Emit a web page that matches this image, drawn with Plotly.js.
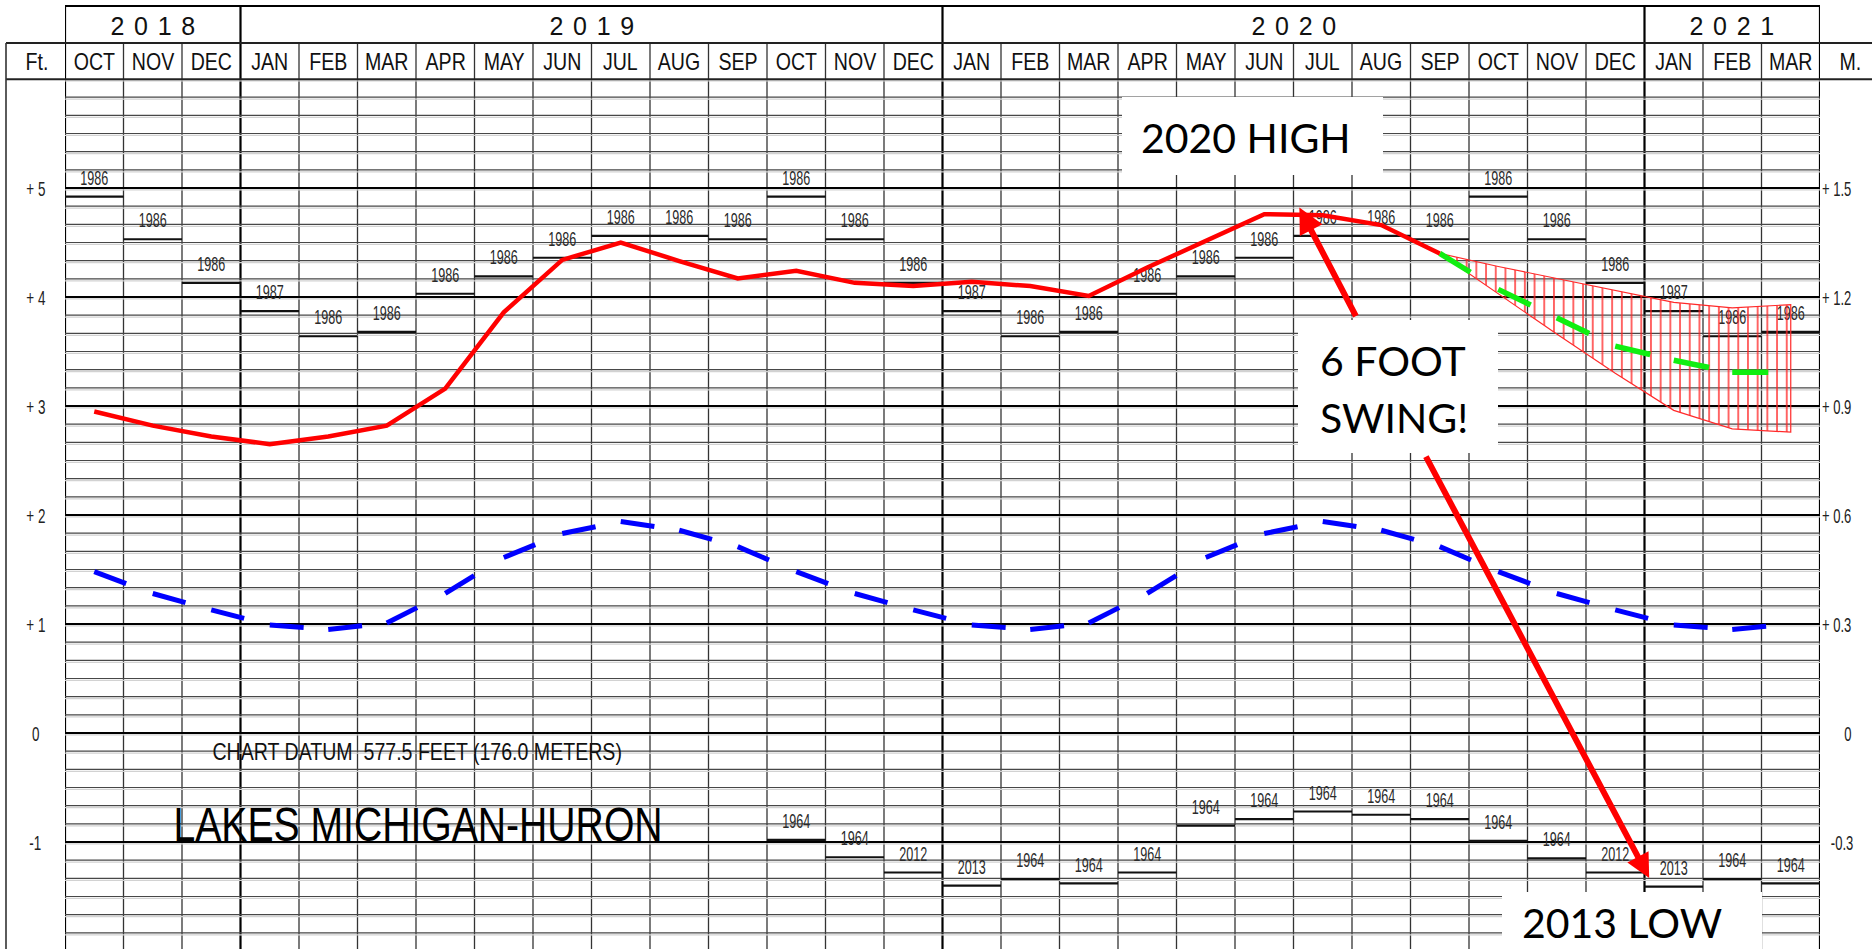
<!DOCTYPE html>
<html><head><meta charset="utf-8">
<script src="https://cdn.plot.ly/plotly-3.0.1.min.js"></script>
<style>html,body{margin:0;padding:0;background:#fff;overflow:hidden}#chart{width:1872px;height:949px}</style>
</head><body><div id="chart"></div>
<script>
// ---------------- data ----------------
const months = ['OCT','NOV','DEC','JAN','FEB','MAR','APR','MAY','JUN','JUL','AUG','SEP','OCT','NOV','DEC',
                'JAN','FEB','MAR','APR','MAY','JUN','JUL','AUG','SEP','OCT','NOV','DEC','JAN','FEB','MAR'];
const years = ['2018','2019','2020','2021'];
const yearFirstMonth = [0,3,15,27];
const yearMonthCount = [3,12,12,3];

// monthly mean level, ft above chart datum (Oct 2018 - Sep 2020)
const actualLevel = [2.95,2.82,2.72,2.65,2.72,2.82,3.16,3.86,4.34,4.50,4.33,4.17,4.24,4.13,4.10,
                     4.14,4.10,4.01,4.27,4.52,4.76,4.75,4.66,4.40];
// forecast Sep 2020 - Mar 2021
const forecastFirstMonth = 23;
const forecastMostProbable = [4.40,4.07,3.81,3.55,3.42,3.31,3.31];
const forecastHigh = [4.40,4.28,4.17,4.06,3.95,3.90,3.93];
const forecastLow  = [4.40,4.03,3.66,3.30,2.96,2.79,2.76];
// long-term average
const longTermAverage = [1.48,1.28,1.13,0.99,0.95,1.01,1.28,1.61,1.83,1.94,1.86,1.71,1.48,1.28,1.13,
                         0.99,0.95,1.01,1.28,1.61,1.83,1.94,1.86,1.71,1.48,1.28,1.13,0.99,0.95,1.00];
// record high monthly means
const recordHigh = [4.92,4.53,4.13,3.87,3.64,3.68,4.03,4.19,4.36,4.56,4.56,4.53,4.92,4.53,4.13,
                    3.87,3.64,3.68,4.03,4.19,4.36,4.56,4.56,4.53,4.92,4.53,4.13,3.87,3.64,3.68];
const recordHighYear = ['1986','1986','1986','1987','1986','1986','1986','1986','1986','1986','1986','1986','1986','1986','1986',
                        '1987','1986','1986','1986','1986','1986','1986','1986','1986','1986','1986','1986','1987','1986','1986'];
// record low monthly means (shown from Oct 2019)
const recordLowFirstMonth = 12;
const recordLow = [-0.98,-1.14,-1.28,-1.40,-1.34,-1.38,-1.28,-0.85,-0.79,-0.72,-0.75,-0.79,
                   -0.99,-1.15,-1.28,-1.41,-1.34,-1.38];
const recordLowYear = ['1964','1964','2012','2013','1964','1964','1964','1964','1964','1964','1964','1964',
                       '1964','1964','2012','2013','1964','1964'];
// axis labels
const feetTicks = [5,4,3,2,1,0,-1];
const feetTickText = ['+ 5','+ 4','+ 3','+ 2','+ 1','0','-1'];
const meterTickText = ['+ 1.5','+ 1.2','+ 0.9','+ 0.6','+ 0.3','0','-0.3'];

// ---------------- geometry helpers ----------------
const W = 1872, H = 949, ML = 65, MR = 52, MT = 79, MB = 0;
const PW = W - ML - MR, PH = H - MT - MB;
const YMAX = 6, YMIN = 6 - PH / 109;
const px = v => (v - ML) / PW;          // pixel x -> paper
const py = v => (H - MB - v) / PH;      // pixel y -> paper
const ARIAL = "'Liberation Sans',Arial,sans-serif";
const CAL = "Lato,'Open Sans',sans-serif";
const NARROW_K = 0.815;   // Arial Narrow look
const TINY_K = 0.6;       // very condensed small labels

function steps(first, vals) {
  const x = [], y = [];
  vals.forEach((v, k) => { const i = first + k; x.push(i - 0.5, i + 0.5, null); y.push(v, v, null); });
  return {x, y};
}
function pieces(first, vals) {
  const x = [], y = [];
  for (let k = 0; k < vals.length - 1; k++) { x.push(first + k, first + k + 1, null); y.push(vals[k], vals[k + 1], null); }
  return {x, y};
}
const idx = (first, n) => Array.from({length: n}, (_, k) => first + k);

// ---------------- traces ----------------
const hiSteps = steps(0, recordHigh);
const loSteps = steps(recordLowFirstMonth, recordLow);
const avgPieces = pieces(0, longTermAverage);
const fcPieces = pieces(forecastFirstMonth, forecastMostProbable);
const fcX = idx(forecastFirstMonth, forecastHigh.length);
const labelStyle = {mode: 'markers+text', textposition: 'top center', marker: {size: 9, opacity: 0},
  textfont: {family: ARIAL, size: 21, color: '#2a2a2a'}, cliponaxis: false, hoverinfo: 'skip'};

const traces = [
  {x: hiSteps.x, y: hiSteps.y, mode: 'lines', line: {color: '#111', width: 2.2}, hoverinfo: 'skip'},
  {x: loSteps.x, y: loSteps.y, mode: 'lines', line: {color: '#111', width: 2.2}, hoverinfo: 'skip'},
  Object.assign({x: idx(0, recordHigh.length), y: recordHigh, text: recordHighYear}, labelStyle),
  Object.assign({x: idx(recordLowFirstMonth, recordLow.length), y: recordLow, text: recordLowYear}, labelStyle),
  {x: avgPieces.x, y: avgPieces.y, mode: 'lines', line: {color: '#0000ff', width: 5, dash: '34px,400px'}, hoverinfo: 'skip'},
  {x: fcX.concat(fcX.slice().reverse()), y: forecastHigh.concat(forecastLow.slice().reverse()),
   mode: 'lines', fill: 'toself', fillcolor: 'rgba(255,0,0,0)', line: {color: '#ff2a2a', width: 1.2},
   fillpattern: {shape: '|', size: 9.7, solidity: 0.14, fgcolor: '#ff2020', bgcolor: 'rgba(255,255,255,0)'}, hoverinfo: 'skip'},
  {x: fcPieces.x, y: fcPieces.y, mode: 'lines', line: {color: '#11ee11', width: 5.5, dash: '36px,400px'}, hoverinfo: 'skip'},
  {x: idx(0, actualLevel.length), y: actualLevel, mode: 'lines', line: {color: '#ff0000', width: 4.5}, hoverinfo: 'skip'}
];

// ---------------- grid & frame shapes ----------------
const shapes = [];
for (let k = -11; k <= 36; k++) {
  const yv = k / 6, major = (k % 6 === 0);
  shapes.push({type: 'line', layer: 'below', xref: 'x', yref: 'y', x0: -0.5, x1: 29.5, y0: yv - 0.018, y1: yv - 0.018,
               line: {color: '#d2d2d2', width: 1.3}});
  shapes.push({type: 'line', layer: 'below', xref: 'x', yref: 'y', x0: -0.5, x1: 29.5, y0: yv, y1: yv,
               line: {color: major ? '#000' : '#474747', width: major ? 2.2 : 1.15}});
}
const yearEdges = [-0.5, 2.5, 14.5, 26.5, 29.5];
for (let i = 0; i <= 30; i++) {
  const xv = i - 0.5, isYear = yearEdges.includes(xv);
  shapes.push({type: 'line', layer: 'below', xref: 'x', yref: 'paper', x0: xv, x1: xv, y0: 0, y1: isYear ? py(6) : py(43),
               line: {color: isYear ? '#000' : '#333', width: isYear ? 2.2 : 1.3}});
}
// header frame
shapes.push({type: 'line', xref: 'x', yref: 'paper', x0: -0.5, x1: 29.5, y0: py(6), y1: py(6), line: {color: '#000', width: 2.2}});
shapes.push({type: 'line', xref: 'paper', yref: 'paper', x0: px(6), x1: px(1872), y0: py(43), y1: py(43), line: {color: '#222', width: 2}});
shapes.push({type: 'line', xref: 'paper', yref: 'paper', x0: px(6), x1: px(1872), y0: py(79.3), y1: py(79.3), line: {color: '#222', width: 2}});
shapes.push({type: 'line', xref: 'paper', yref: 'paper', x0: px(6), x1: px(6), y0: 0, y1: py(43), line: {color: '#333', width: 1.6}});
// white call-out boxes
const box = (x0, y0, x1, y1) => ({type: 'rect', layer: 'above', xref: 'paper', yref: 'paper',
  x0: px(x0), x1: px(x1), y0: py(y1), y1: py(y0), fillcolor: '#fff', line: {width: 0}});
shapes.push(box(1122, 97, 1383, 175));
shapes.push(box(1298, 320, 1498, 453));
shapes.push(box(1502, 892, 1762, 952));

// ---------------- annotations ----------------
const ann = [], fit = [];
function add(a, f) { a.showarrow = a.showarrow || false; if (!a.xanchor) a.xanchor = 'center'; if (!a.yanchor) a.yanchor = 'middle';
  ann.push(a); fit.push(f || null); }
months.forEach((m, i) => add({xref: 'x', yref: 'paper', x: i, y: py(61.5), text: m,
  font: {family: ARIAL, size: 24, color: '#111'}}, {k: NARROW_K, mode: 'spacingAndGlyphs'}));
years.forEach((yr, k) => add({xref: 'x', yref: 'paper', x: yearFirstMonth[k] - 0.5 + yearMonthCount[k] / 2, y: py(26),
  text: yr, font: {family: ARIAL, size: 25, color: '#111'}}, {k: 1.52, mode: 'spacing'}));
add({xref: 'paper', yref: 'paper', x: px(36.5), y: py(61.5), text: 'Ft.', font: {family: ARIAL, size: 24, color: '#111'}},
  {k: NARROW_K, mode: 'spacingAndGlyphs'});
add({xref: 'paper', yref: 'paper', x: px(1850), y: py(61.5), text: 'M.', font: {family: ARIAL, size: 24, color: '#111'}},
  {k: NARROW_K, mode: 'spacingAndGlyphs'});
feetTicks.forEach((v, k) => {
  add({xref: 'paper', yref: 'y', x: px(35.5), y: v, text: feetTickText[k], font: {family: ARIAL, size: 21, color: '#222'}},
    {k: 0.64, mode: 'spacingAndGlyphs'});
  const centred = meterTickText[k] === '0';
  add({xref: 'paper', yref: 'y', x: px(centred ? 1848 : 1862), xanchor: centred ? 'center' : 'right', y: v,
    text: meterTickText[k], font: {family: ARIAL, size: 21, color: '#222'}},
    {k: 0.62, mode: 'spacingAndGlyphs'});
});
add({xref: 'paper', yref: 'paper', x: px(416.5), y: py(751.7), text: 'CHART DATUM  577.5 FEET (176.0 METERS)',
  font: {family: ARIAL, size: 24, color: '#111'}}, {k: NARROW_K, mode: 'spacingAndGlyphs'});
add({xref: 'paper', yref: 'paper', x: px(417.5), y: py(824.5), text: 'LAKES MICHIGAN-HURON',
  font: {family: ARIAL, size: 48, color: '#000'}}, {k: NARROW_K, mode: 'spacingAndGlyphs'});
add({xref: 'paper', yref: 'paper', x: px(1246.3), y: py(137.5), text: '2020 HIGH', font: {family: CAL, size: 41, color: '#000'}});
add({xref: 'paper', yref: 'paper', x: px(1318), y: py(360), xanchor: 'left', text: '6 FOOT', font: {family: CAL, size: 41, color: '#000'}});
add({xref: 'paper', yref: 'paper', x: px(1318), y: py(417), xanchor: 'left', text: 'SWING!', font: {family: CAL, size: 41, color: '#000'}});
add({xref: 'paper', yref: 'paper', x: px(1621.5), y: py(922.5), text: '2013 LOW', font: {family: CAL, size: 41, color: '#000'}});
// arrows
add({xref: 'x', yref: 'y', axref: 'x', ayref: 'y', x: 20.60, y: 4.82, ax: 21.58, ay: 3.81, text: '',
  showarrow: true, arrowhead: 2, arrowsize: 0.85, arrowwidth: 6, arrowcolor: '#ff0000', standoff: 0, startstandoff: 0});
add({xref: 'x', yref: 'y', axref: 'x', ayref: 'y', x: 26.58, y: -1.33, ax: 22.75, ay: 2.55, text: '',
  showarrow: true, arrowhead: 2, arrowsize: 0.8, arrowwidth: 6, arrowcolor: '#ff0000', standoff: 0, startstandoff: 0});

const layout = {
  width: W, height: H, margin: {l: ML, r: MR, t: MT, b: MB, pad: 0},
  paper_bgcolor: '#fff', plot_bgcolor: '#fff', showlegend: false,
  xaxis: {range: [-0.5, 29.5], showgrid: false, zeroline: false, showticklabels: false, ticks: '', showline: false, fixedrange: true},
  yaxis: {range: [YMIN, YMAX], showgrid: false, zeroline: false, showticklabels: false, ticks: '', showline: false, fixedrange: true},
  shapes: shapes, annotations: ann
};

function fitText(t, f) {
  if (!t || !f) return;
  const w = t.getComputedTextLength();
  if (!(w > 0)) return;
  t.setAttribute('textLength', (w * f.k).toFixed(2));
  t.setAttribute('lengthAdjust', f.mode);
}
Plotly.newPlot('chart', traces, layout, {staticPlot: true, displayModeBar: false}).then(gd => {
  gd.querySelectorAll('g.annotation').forEach(g => {
    const i = +g.getAttribute('data-index');
    fitText(g.querySelector('text.annotation-text'), fit[i]);
  });
  gd.querySelectorAll('.textpoint text').forEach(t => fitText(t, {k: TINY_K, mode: 'spacingAndGlyphs'}));
});
</script></body></html>
